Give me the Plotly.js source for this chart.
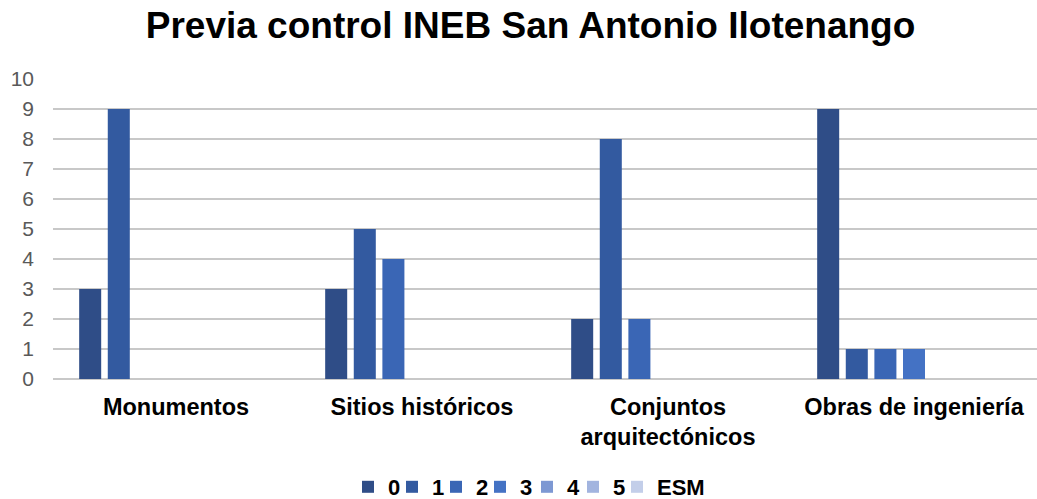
<!DOCTYPE html>
<html>
<head>
<meta charset="utf-8">
<script src="https://cdn.plot.ly/plotly-3.0.1.min.js"></script>
<style>html,body{margin:0;padding:0;background:#fff;}#chart{width:1037px;height:499px;}</style>
</head>
<body>
<div id="chart"></div>
<script>
const categories = ["Monumentos", "Sitios históricos", "Conjuntos<br>arquitectónicos", "Obras de ingeniería"];
const seriesNames = ["0", "1", "2", "3", "4", "5", "ESM"];
const s0 = [3, 3, 2, 9];
const s1 = [9, 5, 8, 1];
const s2 = [0, 4, 2, 1];
const s3 = [0, 0, 0, 1];
const s4 = [0, 0, 0, 0];
const s5 = [0, 0, 0, 0];
const sESM = [0, 0, 0, 0];
const seriesValues = [s0, s1, s2, s3, s4, s5, sESM];
const colors = ["#2F4D87", "#335AA0", "#3A66B5", "#4472C4", "#7D98D3", "#A2B4DF", "#C3CEE9"];
const yTicks = [0,1,2,3,4,5,6,7,8,9,10];

// one legend box per series so the entries can sit as tightly as in the reference
const legendIds = seriesNames.map((n, i) => i === 0 ? "legend" : "legend" + (i + 1));
const legendLeftPx = [348, 392, 436, 480, 527, 573, 617];

const traces = seriesNames.map((n, i) => ({
  type: "bar",
  name: n,
  x: categories,
  y: seriesValues[i],
  marker: {color: colors[i]},
  legend: legendIds[i],
  hoverinfo: "x+y+name"
}));

const legendFont = {family: "Liberation Sans, Arial, sans-serif", size: 22, color: "#000", weight: "bold"};

const layout = {
  width: 1037, height: 499,
  margin: {l: 53, r: 0, t: 79, b: 120},
  paper_bgcolor: "#fff", plot_bgcolor: "#fff",
  title: {text: "<b>Previa control INEB San Antonio Ilotenango</b>", x: 0.5116, xanchor: "center", y: 0.95, yanchor: "middle",
          font: {family: "Liberation Sans, Arial, sans-serif", size: 37, color: "#000"}},
  barmode: "group",
  bargap: 0.186,
  bargroupgap: 0.23,
  xaxis: {
    type: "category",
    showgrid: false, showline: false, zeroline: false, ticks: "",
    tickfont: {family: "Liberation Sans, Arial, sans-serif", size: 23.5, color: "#000", weight: "bold"},
    ticklabelstandoff: 11
  },
  yaxis: {
    range: [0, 10], tickvals: yTicks, ticktext: yTicks.map(String),
    showgrid: true, gridcolor: "#C8C8C8", gridwidth: 2,
    zeroline: true, zerolinecolor: "#C8C8C8", zerolinewidth: 2,
    showline: false, ticks: "",
    tickfont: {family: "Liberation Sans, Arial, sans-serif", size: 21, color: "#595959"},
    ticklabelstandoff: 18, fixedrange: true
  },
  showlegend: true
};

legendIds.forEach((id, i) => {
  layout[id] = {
    orientation: "h", xref: "container", yref: "container",
    x: legendLeftPx[i] / 1037, xanchor: "left", y: 12 / 499, yanchor: "middle",
    font: legendFont, itemwidth: 30, bgcolor: "rgba(0,0,0,0)"
  };
});

Plotly.newPlot("chart", traces, layout, {displayModeBar: false, staticPlot: true});
</script>
</body>
</html>
